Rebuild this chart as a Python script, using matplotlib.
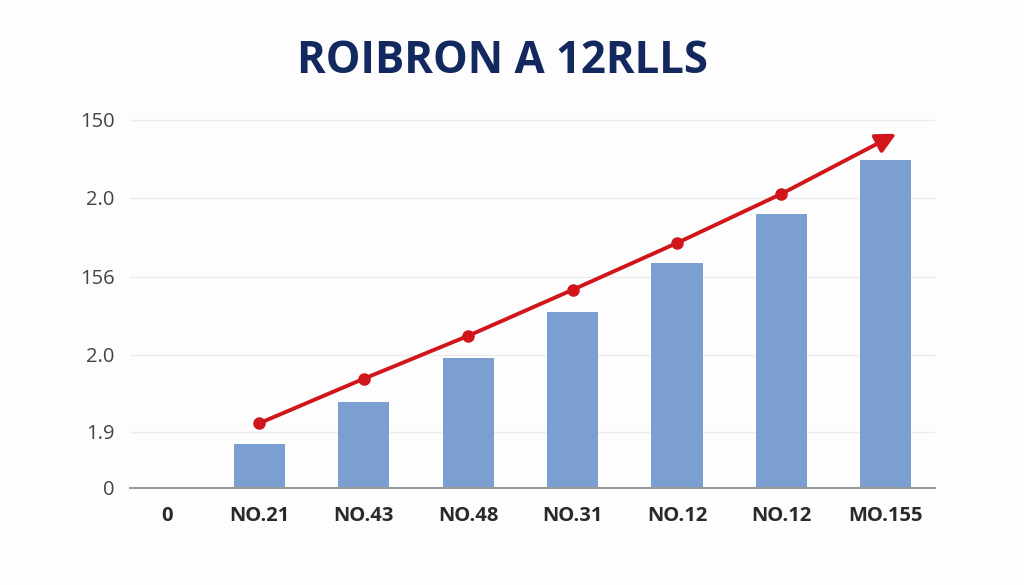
import numpy as np
import matplotlib.pyplot as plt
import matplotlib.transforms as mtransforms

# categories and values (in gridline units)
categories = ['0', 'NO.21', 'NO.43', 'NO.48', 'NO.31', 'NO.12', 'NO.12', 'MO.155']
bar_values = [0, 0.56, 1.10, 1.67, 2.26, 2.88, 3.51, 4.20]
line_values = [0.83, 1.40, 1.95, 2.54, 3.14, 3.77]
arrow_end = (7.1, 4.54)

ytick_pos = [0, 0.72, 1.71, 2.71, 3.72, 4.72]
ytick_labels = ['0', '1.9', '2.0', '156', '2.0', '150']

plt.rcParams['font.family'] = ['Open Sans', 'DejaVu Sans']

fig = plt.figure(figsize=(10.24, 5.85), dpi=100)
fig.patch.set_facecolor('#fdfdfd')
ax = fig.add_axes([0.127, 0.166, 0.786, 0.640])
ax.set_facecolor('#fdfdfd')

x = np.arange(len(categories))
ax.bar(x, bar_values, width=0.49, color='#7a9fd0', zorder=2)

lx = x[1:1 + len(line_values)]
ax.plot(lx, line_values, color='#d0161a', lw=2.8, marker='o', ms=8, zorder=3)
ax.annotate('', xy=arrow_end, xytext=(lx[-1], line_values[-1]),
            arrowprops=dict(arrowstyle='-|>,head_length=1.2,head_width=0.6',
                            color='#d0161a', lw=2.8, shrinkA=0, shrinkB=0),
            zorder=3)

ax.set_xlim(-0.24, 7.47)
ax.set_ylim(0, 4.8)
ax.set_yticks(ytick_pos)
ax.set_yticklabels(ytick_labels, fontsize=14.5, color='#444444')
ax.set_xticks(x)
ax.set_xticklabels(categories, fontsize=14.5, fontweight='bold', color='#2a2a2a')
ax.tick_params(length=0)
ax.tick_params(axis='x', pad=13)
ax.tick_params(axis='y', pad=11)
# first label sits a bit right of its slot in the original
lab0 = ax.get_xticklabels()[0]
lab0.set_transform(lab0.get_transform() + mtransforms.ScaledTranslation(0.12, 0, fig.dpi_scale_trans))
ax.grid(axis='y', color='#ececec', lw=1, zorder=0)
for s in ['top', 'right', 'left']:
    ax.spines[s].set_visible(False)
ax.spines['bottom'].set_color('#999999')
ax.spines['bottom'].set_linewidth(1.5)

fig.text(0.491, 0.895, 'ROIBRON A 12RLLS', fontsize=31.5, fontweight='bold',
         color='#13285e', ha='center', va='center')

fig.savefig('out.png', dpi=100, facecolor=fig.get_facecolor())
